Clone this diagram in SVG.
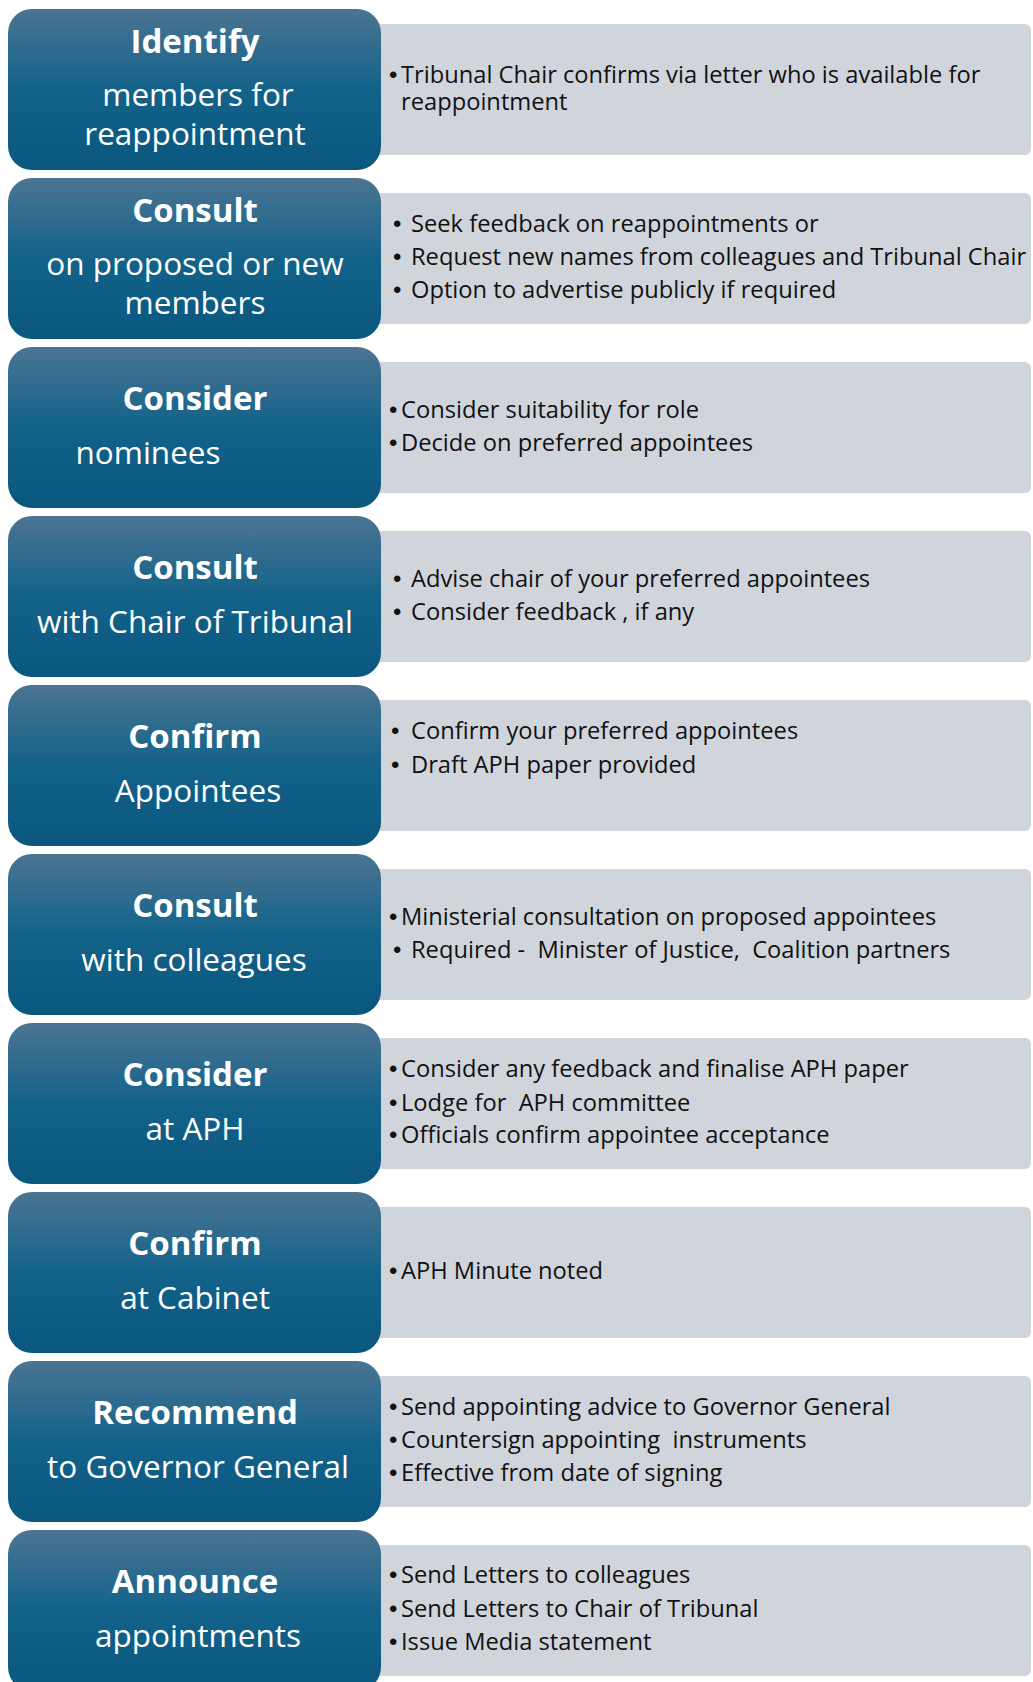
<svg xmlns="http://www.w3.org/2000/svg" width="1033" height="1682" viewBox="0 0 1033 1682">
<defs>
<linearGradient id="blueGrad" x1="0" y1="0" x2="0" y2="1">
<stop offset="0" stop-color="#4b7492"/>
<stop offset="0.5" stop-color="#13628a"/>
<stop offset="1" stop-color="#0a577e"/>
</linearGradient>
</defs>
<style>
.step{fill:url(#blueGrad);}
.desc{fill:#d0d5dc;}
.t{font-family:"Open Sans","Liberation Sans",sans-serif;font-weight:700;font-size:33px;fill:#ffffff;text-anchor:middle;}
.s{font-family:"Open Sans","Liberation Sans",sans-serif;font-size:31.5px;fill:#ffffff;text-anchor:middle;}
.b{font-family:"Open Sans","Liberation Sans",sans-serif;font-size:23.7px;fill:#111111;}
.d{font-family:"Liberation Sans",sans-serif;font-size:24px;fill:#111111;}
</style>
<rect width="1033" height="1682" fill="#ffffff"/>

<g id="desc-0"><rect class="desc" x="370" y="24" width="661" height="131" rx="6"/>
<text class="d" x="389" y="83">•</text><text class="b" x="401" y="83">Tribunal Chair confirms via letter who is available for</text>
<text class="b" x="401" y="110">reappointment</text></g>
<g id="step-0"><rect class="step" x="8" y="9" width="373" height="161" rx="24"/>
<text class="t" x="195" y="53">Identify</text>
<text class="s" x="198" y="106">members for</text>
<text class="s" x="195" y="145">reappointment</text></g>

<g id="desc-1"><rect class="desc" x="370" y="193" width="661" height="131" rx="6"/>
<text class="d" x="393" y="232">•</text><text class="b" x="411" y="232">Seek feedback on reappointments or</text>
<text class="d" x="393" y="265">•</text><text class="b" x="411" y="265">Request new names from colleagues and Tribunal Chair</text>
<text class="d" x="393" y="298">•</text><text class="b" x="411" y="298">Option to advertise publicly if required</text></g>
<g id="step-1"><rect class="step" x="8" y="178" width="373" height="161" rx="24"/>
<text class="t" x="195" y="222">Consult</text>
<text class="s" x="195" y="275">on proposed or new</text>
<text class="s" x="195" y="314">members</text></g>

<g id="desc-2"><rect class="desc" x="370" y="362" width="661" height="131" rx="6"/>
<text class="d" x="389" y="418">•</text><text class="b" x="401" y="418">Consider suitability for role</text>
<text class="d" x="389" y="451">•</text><text class="b" x="401" y="451">Decide on preferred appointees</text></g>
<g id="step-2"><rect class="step" x="8" y="347" width="373" height="161" rx="24"/>
<text class="t" x="195" y="410">Consider</text>
<text class="s" x="148" y="464">nominees</text></g>

<g id="desc-3"><rect class="desc" x="370" y="531" width="661" height="131" rx="6"/>
<text class="d" x="393" y="587">•</text><text class="b" x="411" y="587">Advise chair of your preferred appointees</text>
<text class="d" x="393" y="620">•</text><text class="b" x="411" y="620">Consider feedback , if any</text></g>
<g id="step-3"><rect class="step" x="8" y="516" width="373" height="161" rx="24"/>
<text class="t" x="195" y="579">Consult</text>
<text class="s" x="195" y="633">with Chair of Tribunal</text></g>

<g id="desc-4"><rect class="desc" x="370" y="700" width="661" height="131" rx="6"/>
<text class="d" x="391" y="739">•</text><text class="b" x="411" y="739">Confirm your preferred appointees</text>
<text class="d" x="391" y="773">•</text><text class="b" x="411" y="773">Draft APH paper provided</text></g>
<g id="step-4"><rect class="step" x="8" y="685" width="373" height="161" rx="24"/>
<text class="t" x="195" y="748">Confirm</text>
<text class="s" x="198" y="802">Appointees</text></g>

<g id="desc-5"><rect class="desc" x="370" y="869" width="661" height="131" rx="6"/>
<text class="d" x="389" y="925">•</text><text class="b" x="401" y="925">Ministerial consultation on proposed appointees</text>
<text class="d" x="393" y="958">•</text><text class="b" x="411" y="958" xml:space="preserve">Required -  Minister of Justice,  Coalition partners</text></g>
<g id="step-5"><rect class="step" x="8" y="854" width="373" height="161" rx="24"/>
<text class="t" x="195" y="917">Consult</text>
<text class="s" x="194" y="971">with colleagues</text></g>

<g id="desc-6"><rect class="desc" x="370" y="1038" width="661" height="131" rx="6"/>
<text class="d" x="389" y="1077">•</text><text class="b" x="401" y="1077">Consider any feedback and finalise APH paper</text>
<text class="d" x="389" y="1111">•</text><text class="b" x="401" y="1111" xml:space="preserve">Lodge for  APH committee</text>
<text class="d" x="389" y="1143">•</text><text class="b" x="401" y="1143">Officials confirm appointee acceptance</text></g>
<g id="step-6"><rect class="step" x="8" y="1023" width="373" height="161" rx="24"/>
<text class="t" x="195" y="1086">Consider</text>
<text class="s" x="195" y="1140">at APH</text></g>

<g id="desc-7"><rect class="desc" x="370" y="1207" width="661" height="131" rx="6"/>
<text class="d" x="389" y="1279">•</text><text class="b" x="401" y="1279">APH Minute noted</text></g>
<g id="step-7"><rect class="step" x="8" y="1192" width="373" height="161" rx="24"/>
<text class="t" x="195" y="1255">Confirm</text>
<text class="s" x="195" y="1309">at Cabinet</text></g>

<g id="desc-8"><rect class="desc" x="370" y="1376" width="661" height="131" rx="6"/>
<text class="d" x="389" y="1415">•</text><text class="b" x="401" y="1415">Send appointing advice to Governor General</text>
<text class="d" x="389" y="1448">•</text><text class="b" x="401" y="1448" xml:space="preserve">Countersign appointing  instruments</text>
<text class="d" x="389" y="1481">•</text><text class="b" x="401" y="1481">Effective from date of signing</text></g>
<g id="step-8"><rect class="step" x="8" y="1361" width="373" height="161" rx="24"/>
<text class="t" x="195" y="1424">Recommend</text>
<text class="s" x="198" y="1478">to Governor General</text></g>

<g id="desc-9"><rect class="desc" x="370" y="1545" width="661" height="131" rx="6"/>
<text class="d" x="389" y="1583">•</text><text class="b" x="401" y="1583">Send Letters to colleagues</text>
<text class="d" x="389" y="1617">•</text><text class="b" x="401" y="1617">Send Letters to Chair of Tribunal</text>
<text class="d" x="389" y="1650">•</text><text class="b" x="401" y="1650">Issue Media statement</text></g>
<g id="step-9"><rect class="step" x="8" y="1530" width="373" height="161" rx="24"/>
<text class="t" x="195" y="1593">Announce</text>
<text class="s" x="198" y="1647">appointments</text></g>
</svg>
